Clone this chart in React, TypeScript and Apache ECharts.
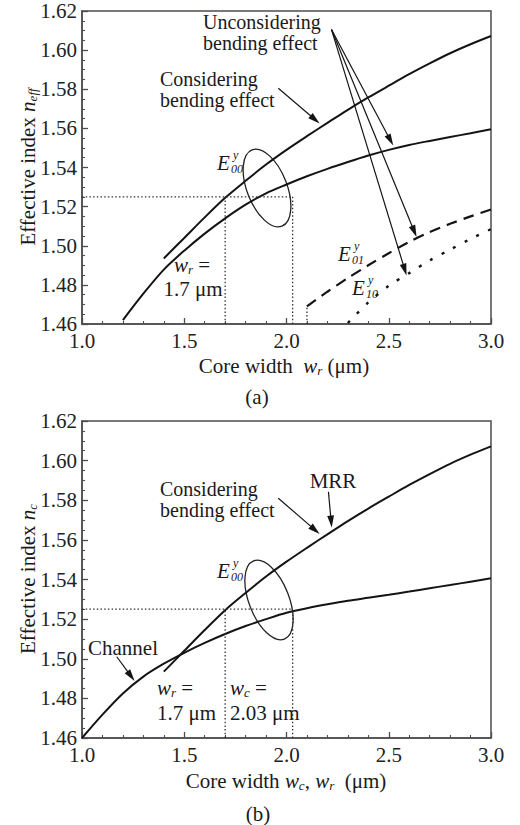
import React, { useEffect, useRef } from "react";
import * as echarts from "echarts";

// ---------- panel (a) data ----------
const consX = [1.4, 1.5, 1.6, 1.7, 1.8, 1.9, 2.0, 2.1, 2.2, 2.3, 2.4, 2.5, 2.6, 2.7, 2.8, 2.9, 3.0];
const consY = [1.4935, 1.504, 1.5145, 1.5245, 1.5332, 1.5415, 1.549, 1.556, 1.5628, 1.5695, 1.5758, 1.5818, 1.5877, 1.5932, 1.5984, 1.603, 1.6072];
const unconsX = [1.2, 1.3, 1.4, 1.5, 1.6, 1.7, 1.8, 1.9, 2.0, 2.1, 2.2, 2.3, 2.4, 2.5, 2.6, 2.7, 2.8, 2.9, 3.0];
const unconsY = [1.462, 1.4755, 1.4878, 1.4975, 1.5062, 1.514, 1.521, 1.5268, 1.5313, 1.5355, 1.5393, 1.5428, 1.5461, 1.549, 1.5515, 1.5536, 1.5556, 1.5575, 1.5595];
const e01X = [2.1, 2.2, 2.3, 2.4, 2.5, 2.6, 2.7, 2.8, 2.9, 3.0];
const e01Y = [1.469, 1.4765, 1.4835, 1.49, 1.4962, 1.502, 1.507, 1.5112, 1.515, 1.5185];
const e10X = [2.3, 2.4, 2.5, 2.6, 2.7, 2.8, 2.9, 3.0];
const e10Y = [1.4605, 1.471, 1.4795, 1.486, 1.4925, 1.498, 1.5035, 1.5085];

// ---------- panel (b) data ----------
const mrrX = consX;
const mrrY = consY;
const channelX = [1.0, 1.1, 1.2, 1.3, 1.4, 1.5, 1.6, 1.7, 1.8, 1.9, 2.0, 2.1, 2.2, 2.3, 2.4, 2.5, 2.6, 2.7, 2.8, 2.9, 3.0];
const channelY = [1.46, 1.4718, 1.4825, 1.491, 1.4975, 1.503, 1.508, 1.5125, 1.5165, 1.52, 1.5232, 1.5255, 1.5275, 1.5293, 1.5308, 1.5323, 1.5339, 1.5356, 1.5372, 1.5389, 1.5406];

// guides
const guideLevel = 1.525;
const guideWidths = [1.7, 2.03];

// axes
const xMin = 1.0, xMax = 3.0, xStep = 0.5;
const yMin = 1.46, yMax = 1.62, yStep = 0.02;

// arrows [from, to] in data coords
const arrowsA = [
  [[1.96, 1.5805], [2.162, 1.5625]],
  [[2.22, 1.6105], [2.522, 1.5512]],
  [[2.22, 1.6105], [2.636, 1.5045]],
  [[2.22, 1.6105], [2.587, 1.4848]],
];
const arrowsB = [
  [[1.96, 1.581], [2.162, 1.563]],
  [[2.205, 1.5843], [2.221, 1.5662]],
  [[1.17, 1.501], [1.257, 1.4888]],
];

const FONT = '"Liberation Serif","Times New Roman",serif';
const FS = 21;
const INK = "#141414";
const AX = "#4d4d4d";

const pairs = (xs: number[], ys: number[]) => xs.map((x, i) => [x, ys[i]]);

function xAxis(gridIndex: number) {
  return {
    gridIndex,
    type: "value",
    min: xMin,
    max: xMax,
    interval: xStep,
    axisLine: { show: true, onZero: false, lineStyle: { color: AX, width: 1.5 } },
    axisTick: { show: true, inside: true, length: 6, lineStyle: { color: AX, width: 1.3 } },
    minorTick: { show: true, splitNumber: 5, length: 3, lineStyle: { color: AX, width: 1.1 } },
    axisLabel: { fontFamily: FONT, fontSize: FS, color: "#222", margin: 6, formatter: (v: number) => v.toFixed(1) },
    splitLine: { show: false },
  };
}
function yAxis(gridIndex: number) {
  return {
    gridIndex,
    type: "value",
    min: yMin,
    max: yMax,
    interval: yStep,
    axisLine: { show: true, onZero: false, lineStyle: { color: AX, width: 1.5 } },
    axisTick: { show: true, inside: true, length: 6, lineStyle: { color: AX, width: 1.3 } },
    minorTick: { show: true, splitNumber: 4, length: 3, lineStyle: { color: AX, width: 1.1 } },
    axisLabel: { fontFamily: FONT, fontSize: FS, color: "#222", margin: 5, formatter: (v: number) => v.toFixed(2) },
    splitLine: { show: false },
  };
}

function lineSeries(gi: number, data: number[][], style: any, smooth = 0.3) {
  return {
    type: "line",
    xAxisIndex: gi,
    yAxisIndex: gi,
    data,
    symbol: "none",
    smooth,
    silent: true,
    lineStyle: { color: INK, width: 2, ...style },
    z: 3,
  };
}

function guides(gi: number) {
  const st = { type: [1.5, 2.2], width: 1.3, color: "#333" };
  return [
    lineSeries(gi, [[xMin, guideLevel], [guideWidths[1], guideLevel]], st, 0),
    lineSeries(gi, [[guideWidths[0], yMin], [guideWidths[0], guideLevel]], st, 0),
    lineSeries(gi, [[guideWidths[1], yMin], [guideWidths[1], guideLevel]], st, 0),
  ];
}

function buildOption() {
  return {
    animation: false,
    grid: [
      { left: 82, top: 11, width: 409, height: 313, show: true, borderColor: AX, borderWidth: 1.5, backgroundColor: "transparent" },
      { left: 82, top: 421, width: 409, height: 317, show: true, borderColor: AX, borderWidth: 1.5, backgroundColor: "transparent" },
    ],
    xAxis: [xAxis(0), xAxis(1)],
    yAxis: [yAxis(0), yAxis(1)],
    series: [
      lineSeries(0, pairs(consX, consY), {}),
      lineSeries(0, pairs(unconsX, unconsY), {}),
      lineSeries(0, pairs(e01X, e01Y), { type: [11, 7], width: 2.2 }),
      lineSeries(0, pairs(e10X, e10Y), { type: [3, 10], width: 2.4 }),
      lineSeries(0, [[e01X[0], yMin], [e01X[0], e01Y[0]]], { type: [1.5, 2.2], width: 1.3, color: "#333" }, 0),
      ...guides(0),
      lineSeries(1, pairs(mrrX, mrrY), {}),
      lineSeries(1, pairs(channelX, channelY), {}),
      ...guides(1),
    ],
  };
}

const base = (size: number, italic = false) => ({
  fontFamily: FONT,
  fontSize: size,
  fontStyle: italic ? "italic" : "normal",
  fill: "#1a1a1a",
});

function txt(x: number, y: number, text: string, align = "left", size = FS, italic = false) {
  return {
    type: "text",
    x,
    y,
    silent: true,
    style: { text, ...base(size, italic), align, verticalAlign: "middle", lineHeight: 21 },
  };
}

const richStyles = {
  n: { ...base(FS), lineHeight: 22 },
  i: { ...base(FS, true), lineHeight: 22 },
  s: { ...base(13, true), lineHeight: 8, verticalAlign: "bottom" },
};
const richTight = {
  n: { ...base(FS), lineHeight: 21 },
  i: { ...base(FS, true), lineHeight: 21 },
  s: { ...base(13, true), lineHeight: 11, verticalAlign: "bottom" },
};

function rich(x: number, y: number, text: string, align = "center", rotation = 0, rs: any = richStyles) {
  return {
    type: "text",
    x,
    y,
    rotation,
    silent: true,
    style: { text, ...base(FS), align, verticalAlign: "middle", rich: rs },
  };
}

function mode(x: number, y: number, sub: string) {
  return [
    txt(x, y, "E", "left", FS, true),
    txt(x + 16, y - 8, "y", "left", 12, true),
    txt(x + 14, y + 6, sub, "left", 12, true),
  ];
}

function ellipse(cx: number, cy: number, rx: number, ry: number, rot: number) {
  return {
    type: "ellipse",
    x: cx,
    y: cy,
    rotation: rot,
    silent: true,
    shape: { cx: 0, cy: 0, rx, ry },
    style: { fill: "none", stroke: "#222", lineWidth: 1.3 },
  };
}

function arrows(chart: any, gi: number, list: number[][][]) {
  const out: any[] = [];
  list.forEach(([from, to]) => {
    const p0 = chart.convertToPixel({ gridIndex: gi }, from);
    const p1 = chart.convertToPixel({ gridIndex: gi }, to);
    const dx = p1[0] - p0[0], dy = p1[1] - p0[1];
    const len = Math.hypot(dx, dy);
    const ux = dx / len, uy = dy / len;
    const nx = -uy, ny = ux;
    const L = 12, W = 3.4;
    const bx = p1[0] - ux * L, by = p1[1] - uy * L;
    out.push({
      type: "line",
      silent: true,
      shape: { x1: p0[0], y1: p0[1], x2: bx + ux * 2, y2: by + uy * 2 },
      style: { stroke: INK, lineWidth: 1.2 },
    });
    out.push({
      type: "polygon",
      silent: true,
      shape: { points: [[p1[0], p1[1]], [bx + nx * W, by + ny * W], [bx - nx * W, by - ny * W]] },
      style: { fill: INK },
    });
  });
  return out;
}

function buildGraphic(chart: any) {
  return [
    // panel (a)
    ellipse(267, 188, 20, 41, 0.373),
    ...mode(217, 163, "00"),
    ...mode(338, 254, "01"),
    ...mode(352, 288, "10"),
    txt(203, 32, "Unconsidering\nbending effect", "left", 20),
    txt(160, 89, "Considering\nbending effect", "left", 20),
    rich(192, 265, "{i|w}{s|r}{n| =}", "center", 0, richTight),
    txt(193, 289, "1.7 μm", "center"),
    rich(284, 366, "{n|Core width  }{i|w}{s|r}{n| (μm)}"),
    rich(28, 167, "{n|Effective index }{i|n}{s|eff}", "center", Math.PI / 2),
    txt(257, 397, "(a)", "center"),
    ...arrows(chart, 0, arrowsA),
    // panel (b)
    ellipse(269, 600, 20, 42, 0.375),
    ...mode(217, 571, "00"),
    txt(160, 499, "Considering\nbending effect", "left", 20),
    txt(333, 481, "MRR", "center"),
    txt(88, 648, "Channel"),
    rich(157, 688, "{i|w}{s|r}{n| =}", "left", 0, richTight),
    txt(157, 713, "1.7 μm"),
    rich(230, 688, "{i|w}{s|c}{n| =}", "left", 0, richTight),
    txt(230, 713, "2.03 μm"),
    rich(286, 781, "{n|Core width }{i|w}{s|c}{n|, }{i|w}{s|r}{n|  (μm)}"),
    rich(28, 579, "{n|Effective index }{i|n}{s|c}", "center", Math.PI / 2),
    txt(258, 814, "(b)", "center"),
    ...arrows(chart, 1, arrowsB),
  ];
}

export default function App() {
  const ref = useRef<HTMLDivElement>(null);
  useEffect(() => {
    document.body.style.margin = "0";
    const chart = echarts.init(ref.current!, null, { renderer: "svg" });
    chart.setOption(buildOption() as any);
    chart.setOption({ graphic: buildGraphic(chart) } as any);
    return () => chart.dispose();
  }, []);
  return <div ref={ref} style={{ width: 520, height: 825, background: "#fff" }} />;
}
